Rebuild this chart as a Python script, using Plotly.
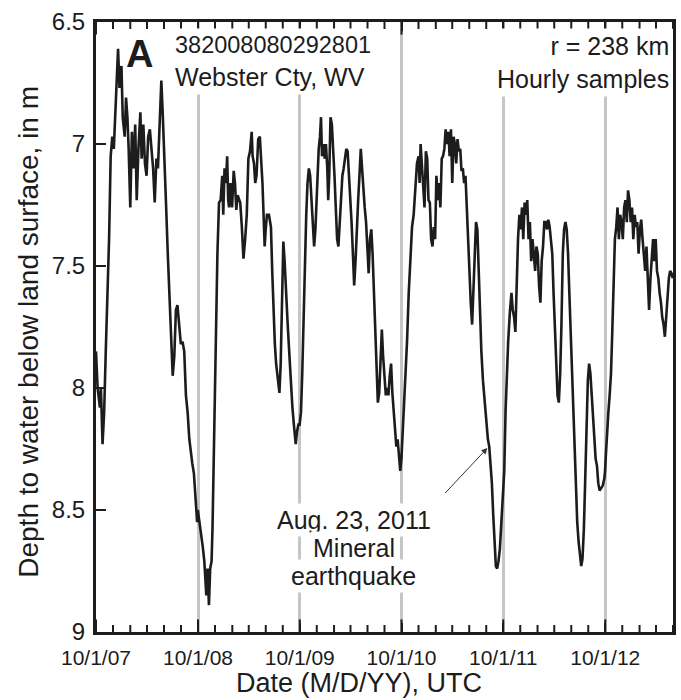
import plotly.graph_objects as go
import pandas as pd

# months elapsed since 10/1/07 and depth to water (m)
wy2008_month = [0.0, 0.19, 0.46, 0.58, 0.77, 0.96, 1.15, 1.35, 1.54, 1.73, 1.92, 2.1, 2.3, 2.5, 2.6, 2.77, 3.0, 3.15,
                3.38, 3.54, 3.7, 3.85, 4.04, 4.23, 4.42, 4.62, 4.8, 5.0, 5.23, 5.38, 5.58, 5.77, 5.96, 6.15, 6.35,
                6.54, 6.73, 6.92, 7.12, 7.3, 7.5, 7.7, 7.88, 8.08, 8.27, 8.46, 8.65, 8.85, 9.04, 9.23, 9.42, 9.6,
                9.8, 10.0, 10.2, 10.4, 10.6, 10.8, 11.0, 11.15, 11.35, 11.54, 11.73, 11.92]
wy2008_depth = [7.85, 8.0, 8.08, 8.0, 8.23, 8.1, 7.85, 7.61, 7.39, 7.05, 6.97, 7.02, 6.85, 6.73, 6.61, 6.77, 6.68, 6.89,
                6.97, 6.81, 6.89, 7.02, 7.26, 6.95, 7.1, 6.92, 7.23, 7.02, 6.87, 7.06, 6.92, 7.08, 7.13, 6.97, 6.94,
                7.02, 7.1, 7.24, 7.06, 7.1, 6.87, 6.74, 6.89, 7.13, 7.26, 7.45, 7.61, 7.77, 7.95, 7.87, 7.68, 7.66,
                7.76, 7.82, 7.81, 7.85, 8.03, 8.1, 8.21, 8.26, 8.31, 8.35, 8.45, 8.55]

wy2009_month = [12.0, 12.19, 12.38, 12.58, 12.77, 12.88, 13.0, 13.15, 13.31, 13.46, 13.62, 13.73, 13.85, 14.0, 14.15,
                14.31, 14.5, 14.69, 14.88, 15.0, 15.15, 15.31, 15.46, 15.58, 15.69, 15.85, 16.04, 16.23, 16.38, 16.54,
                16.69, 16.85, 17.0, 17.19, 17.38, 17.58, 17.77, 17.96, 18.15, 18.35, 18.46, 18.62, 18.77, 18.92, 19.12,
                19.31, 19.5, 19.62, 19.77, 19.88, 20.0, 20.15, 20.38, 20.62, 20.77, 20.92, 21.08, 21.23, 21.42, 21.62,
                21.77, 21.92, 22.08, 22.23, 22.38, 22.58, 22.77, 22.96, 23.15, 23.35, 23.54, 23.69, 23.85]
wy2009_depth = [8.5, 8.55, 8.58, 8.65, 8.71, 8.77, 8.85, 8.74, 8.89, 8.74, 8.71, 8.58, 8.34, 8.02, 7.69,
                7.45, 7.24, 7.23, 7.13, 7.29, 7.1, 7.16, 7.05, 7.23, 7.26, 7.16, 7.26, 7.11, 7.16, 7.27,
                7.21, 7.23, 7.24, 7.34, 7.47, 7.39, 7.29, 7.06, 7.03, 6.95, 7.05, 7.08, 7.16, 7.13, 6.98,
                6.97, 7.08, 7.16, 7.31, 7.42, 7.35, 7.29, 7.29, 7.34, 7.52, 7.69, 7.82, 7.9, 7.97, 8.02,
                7.9, 7.61, 7.4, 7.48, 7.61, 7.73, 7.85, 7.97, 8.08, 8.16, 8.23, 8.18, 8.15]

wy2010_month = [24.0, 24.16, 24.31, 24.47, 24.62, 24.78, 24.93, 25.09, 25.24, 25.4, 25.55, 25.71, 25.86, 26.02, 26.13,
                26.25, 26.4, 26.52, 26.64, 26.79, 26.95, 27.1, 27.26, 27.37, 27.49, 27.64, 27.8, 27.95, 28.11, 28.26,
                28.42, 28.57, 28.73, 28.88, 29.04, 29.19, 29.35, 29.5, 29.66, 29.81, 29.97, 30.12, 30.28, 30.43, 30.59,
                30.74, 30.9, 31.05, 31.21, 31.36, 31.52, 31.67, 31.83, 31.98, 32.14, 32.29, 32.45, 32.6, 32.76, 32.91,
                33.07, 33.22, 33.38, 33.53, 33.69, 33.84, 34.0, 34.16, 34.31, 34.47, 34.62, 34.78, 34.93, 35.09, 35.24,
                35.4, 35.55, 35.71, 35.86]
wy2010_depth = [8.15, 8.1, 7.94, 7.69, 7.45, 7.29, 7.16, 7.1, 7.13, 7.23, 7.32, 7.42, 7.35, 7.19, 7.1,
                7.02, 6.97, 6.89, 7.05, 7.0, 7.06, 7.0, 7.1, 7.23, 7.13, 6.89, 6.92, 7.0, 7.13, 7.26,
                7.39, 7.42, 7.31, 7.19, 7.13, 7.1, 7.05, 7.02, 7.03, 7.11, 7.23, 7.32, 7.45, 7.58, 7.48,
                7.32, 7.23, 7.13, 7.02, 7.1, 7.21, 7.26, 7.32, 7.42, 7.53, 7.39, 7.35, 7.45, 7.61, 7.77,
                7.94, 8.06, 8.02, 7.85, 7.76, 7.87, 7.98, 8.03, 8.0, 8.03, 7.95, 7.9, 8.02, 8.1, 8.19,
                8.24, 8.21, 8.29, 8.34]

wy2011_month = [36.0, 36.16, 36.31, 36.47, 36.66, 36.86, 37.05, 37.25, 37.44, 37.63, 37.83, 38.02, 38.14, 38.26, 38.41,
                38.57, 38.72, 38.88, 39.04, 39.19, 39.35, 39.5, 39.66, 39.81, 39.97, 40.12, 40.28, 40.44, 40.59, 40.75,
                40.9, 41.06, 41.21, 41.37, 41.53, 41.68, 41.84, 41.99, 42.15, 42.3, 42.46, 42.61, 42.77, 42.93, 43.08,
                43.24, 43.39, 43.55, 43.7, 43.86, 44.02, 44.17, 44.33, 44.48, 44.64, 44.79, 44.95, 45.11, 45.26, 45.42,
                45.61, 45.81, 46.0, 46.19, 46.35, 46.51, 46.66, 46.82, 46.97, 47.13, 47.28, 47.44, 47.6, 47.75, 47.91]
wy2011_depth = [8.29, 8.18, 8.06, 7.94, 7.81, 7.61, 7.45, 7.34, 7.29, 7.18, 7.08, 7.05, 7.16, 7.0, 7.1,
                7.19, 7.26, 7.03, 7.06, 7.23, 7.24, 7.39, 7.42, 7.34, 7.39, 7.13, 7.23, 7.16, 7.26, 7.06,
                7.05, 7.02, 6.94, 7.0, 6.95, 7.05, 6.94, 7.16, 6.97, 7.0, 7.08, 6.98, 7.03, 7.02, 7.11,
                7.1, 7.16, 7.13, 7.26, 7.37, 7.55, 7.65, 7.74, 7.61, 7.45, 7.32, 7.35, 7.52, 7.71, 7.85,
                7.97, 8.06, 8.16, 8.21, 8.24, 8.31, 8.39, 8.52, 8.65, 8.73, 8.74, 8.71, 8.66, 8.58, 8.45]

wy2012_month = [48.12, 48.27, 48.43, 48.58, 48.78, 48.97, 49.12, 49.28, 49.43, 49.59, 49.74, 49.9, 50.05, 50.21, 50.36,
                50.52, 50.67, 50.83, 50.98, 51.14, 51.29, 51.45, 51.6, 51.76, 51.91, 52.07, 52.22, 52.38, 52.53, 52.69,
                52.84, 53.0, 53.16, 53.31, 53.47, 53.62, 53.78, 53.93, 54.09, 54.24, 54.4, 54.55, 54.71, 54.86, 55.02,
                55.17, 55.33, 55.48, 55.64, 55.79, 55.95, 56.1, 56.26, 56.41, 56.57, 56.72, 56.88, 57.03, 57.19, 57.34,
                57.5, 57.65, 57.81, 57.97, 58.12, 58.27, 58.43, 58.58, 58.74, 58.89, 59.05, 59.2, 59.36, 59.51]
wy2012_depth = [8.34, 8.1, 7.94, 7.81, 7.69, 7.61, 7.68, 7.71, 7.77, 7.53, 7.39, 7.29, 7.35, 7.26, 7.39,
                7.24, 7.29, 7.23, 7.39, 7.32, 7.48, 7.39, 7.45, 7.52, 7.42, 7.45, 7.58, 7.65, 7.48, 7.42,
                7.32, 7.32, 7.35, 7.31, 7.34, 7.39, 7.45, 7.61, 7.77, 7.94, 8.03, 8.06, 7.94, 7.74, 7.45,
                7.35, 7.32, 7.35, 7.45, 7.61, 7.77, 7.94, 8.1, 8.26, 8.42, 8.55, 8.63, 8.68, 8.73, 8.7,
                8.58, 8.39, 8.13, 7.97, 7.9, 7.94, 8.03, 8.13, 8.23, 8.29, 8.32, 8.39, 8.42, 8.41]

wy2013_month = [59.73, 59.92, 60.0, 60.12, 60.23, 60.39, 60.54, 60.7, 60.85, 61.01, 61.16, 61.32, 61.47, 61.63, 61.78,
                61.94, 62.09, 62.25, 62.4, 62.56, 62.71, 62.87, 63.02, 63.18, 63.33, 63.49, 63.64, 63.8, 63.95, 64.11,
                64.26, 64.42, 64.57, 64.73, 64.88, 65.04, 65.19, 65.35, 65.5, 65.66, 65.81, 65.97, 66.12, 66.28, 66.43,
                66.59, 66.74, 66.9, 67.05, 67.21, 67.36, 67.52, 67.67, 67.83, 67.98]
wy2013_depth = [8.4, 8.37, 8.34, 8.26, 8.18, 8.1, 8.03, 7.94, 7.77, 7.58, 7.39, 7.34, 7.26, 7.39, 7.29,
                7.32, 7.39, 7.26, 7.23, 7.32, 7.19, 7.23, 7.32, 7.26, 7.39, 7.29, 7.34, 7.32, 7.45, 7.35,
                7.31, 7.39, 7.45, 7.52, 7.42, 7.58, 7.68, 7.55, 7.45, 7.39, 7.48, 7.39, 7.52, 7.55, 7.61,
                7.65, 7.71, 7.74, 7.79, 7.71, 7.61, 7.55, 7.52, 7.53, 7.55]

start_date = "2007-10-01"
end_date = "2013-06-01"
y_min, y_max = 6.5, 9
y_ticks = [6.5, 7, 7.5, 8, 8.5, 9]
y_ticktext = ["6.5", "7", "7.5", "8", "8.5", "9"]
quake_date = "2011-08-10"
quake_depth = 8.24
quake_lines = ["Aug. 23, 2011", "Mineral", "earthquake"]

months = wy2008_month + wy2009_month + wy2010_month + wy2011_month + wy2012_month + wy2013_month
depth = wy2008_depth + wy2009_depth + wy2010_depth + wy2011_depth + wy2012_depth + wy2013_depth
dates = [pd.Timestamp(start_date) + pd.Timedelta(days=m * 30.4375) for m in months]
major_ticks = list(pd.date_range(start_date, end_date, freq="12MS"))
minor_ticks = [d for d in pd.date_range(start_date, end_date, freq="2MS") if d.month != 10]

FONT = "Liberation Sans, Arial, Helvetica, sans-serif"
INK = "#1c1c1c"

fig = go.Figure()
fig.add_trace(go.Scatter(x=dates, y=depth, mode="lines",
                         line=dict(color=INK, width=2.6), hoverinfo="skip", showlegend=False))

# inward tick marks on bottom and top frame (half of each marker is clipped by the frame)
for ticks, size in ((major_ticks, 18), (minor_ticks, 10)):
    for edge in (y_min, y_max):
        fig.add_trace(go.Scatter(
            x=ticks, y=[edge] * len(ticks), mode="markers", cliponaxis=True,
            marker=dict(symbol="line-ns", size=size, color=INK, line=dict(color=INK, width=2)),
            hoverinfo="skip", showlegend=False))

fig.update_layout(
    width=681, height=700,
    margin=dict(l=96, r=5, t=22, b=68),
    paper_bgcolor="white", plot_bgcolor="white",
    font=dict(family=FONT, color=INK),
    showlegend=False,
    xaxis=dict(
        type="date", range=[start_date, end_date],
        tickmode="array", tickvals=major_ticks, tickformat="%-m/%-d/%y",
        ticks="inside", ticklen=9, tickwidth=2, tickcolor=INK,
        showgrid=True, gridcolor="#c3c7c7", gridwidth=2.5,
        showline=True, linecolor=INK, linewidth=3, mirror="ticks",
        tickfont=dict(size=21, family=FONT, color=INK),
        ticklabelstandoff=5,
        zeroline=False,
    ),
    yaxis=dict(
        range=[y_max, y_min], tickmode="array", tickvals=y_ticks, ticktext=y_ticktext,
        ticks="inside", ticklen=10, tickwidth=2, tickcolor=INK,
        showgrid=False, zeroline=False,
        showline=True, linecolor=INK, linewidth=3, mirror=True,
        tickfont=dict(size=24, family=FONT, color=INK),
        ticklabelstandoff=3,
    ),
)

# axis titles
fig.add_annotation(text="Depth to water below land surface, in m", xref="paper", yref="paper",
                   x=-0.117, y=0.493, xanchor="center", yanchor="middle", textangle=-90,
                   showarrow=False, font=dict(size=28, family=FONT, color=INK))
fig.add_annotation(text="Date (M/D/YY), UTC", xref="paper", yref="paper",
                   x=0.455, y=-0.0835, xanchor="center", yanchor="middle",
                   showarrow=False, font=dict(size=27, family=FONT, color=INK))

# panel labels
fig.add_annotation(text="<b>A</b>", xref="paper", yref="paper", x=0.048, y=0.985,
                   xanchor="left", yanchor="top", showarrow=False,
                   font=dict(size=38, family=FONT, color=INK))
fig.add_annotation(text="<span style='font-size:23.5px'>382008080292801</span><br>Webster Cty, WV",
                   xref="paper", yref="paper",
                   x=0.13, y=0.99, xanchor="left", yanchor="top", align="left",
                   showarrow=False, bgcolor="white", borderpad=3,
                   font=dict(size=25, family=FONT, color=INK))
fig.add_annotation(text="r = 238 km<br>Hourly samples", xref="paper", yref="paper",
                   x=1.0, y=0.99, xanchor="right", yanchor="top", align="right",
                   showarrow=False, bgcolor="white", borderpad=3,
                   font=dict(size=25, family=FONT, color=INK))

# earthquake label and arrow
for i, line in enumerate(quake_lines):
    fig.add_annotation(text=line, xref="paper", yref="paper",
                       x=(355 - 96) / 580, y=(632 - (520 + 28 * i)) / 610,
                       xanchor="center", yanchor="middle", align="center",
                       showarrow=False, bgcolor="white", borderpad=2,
                       font=dict(size=25, family=FONT, color=INK))
fig.add_annotation(text="", x=quake_date, y=quake_depth, xref="x", yref="y",
                   showarrow=True, ax=-45, ay=48, arrowhead=2, arrowsize=1.2, arrowwidth=1,
                   arrowcolor="#333333", standoff=2)

fig.write_html("out.html")
